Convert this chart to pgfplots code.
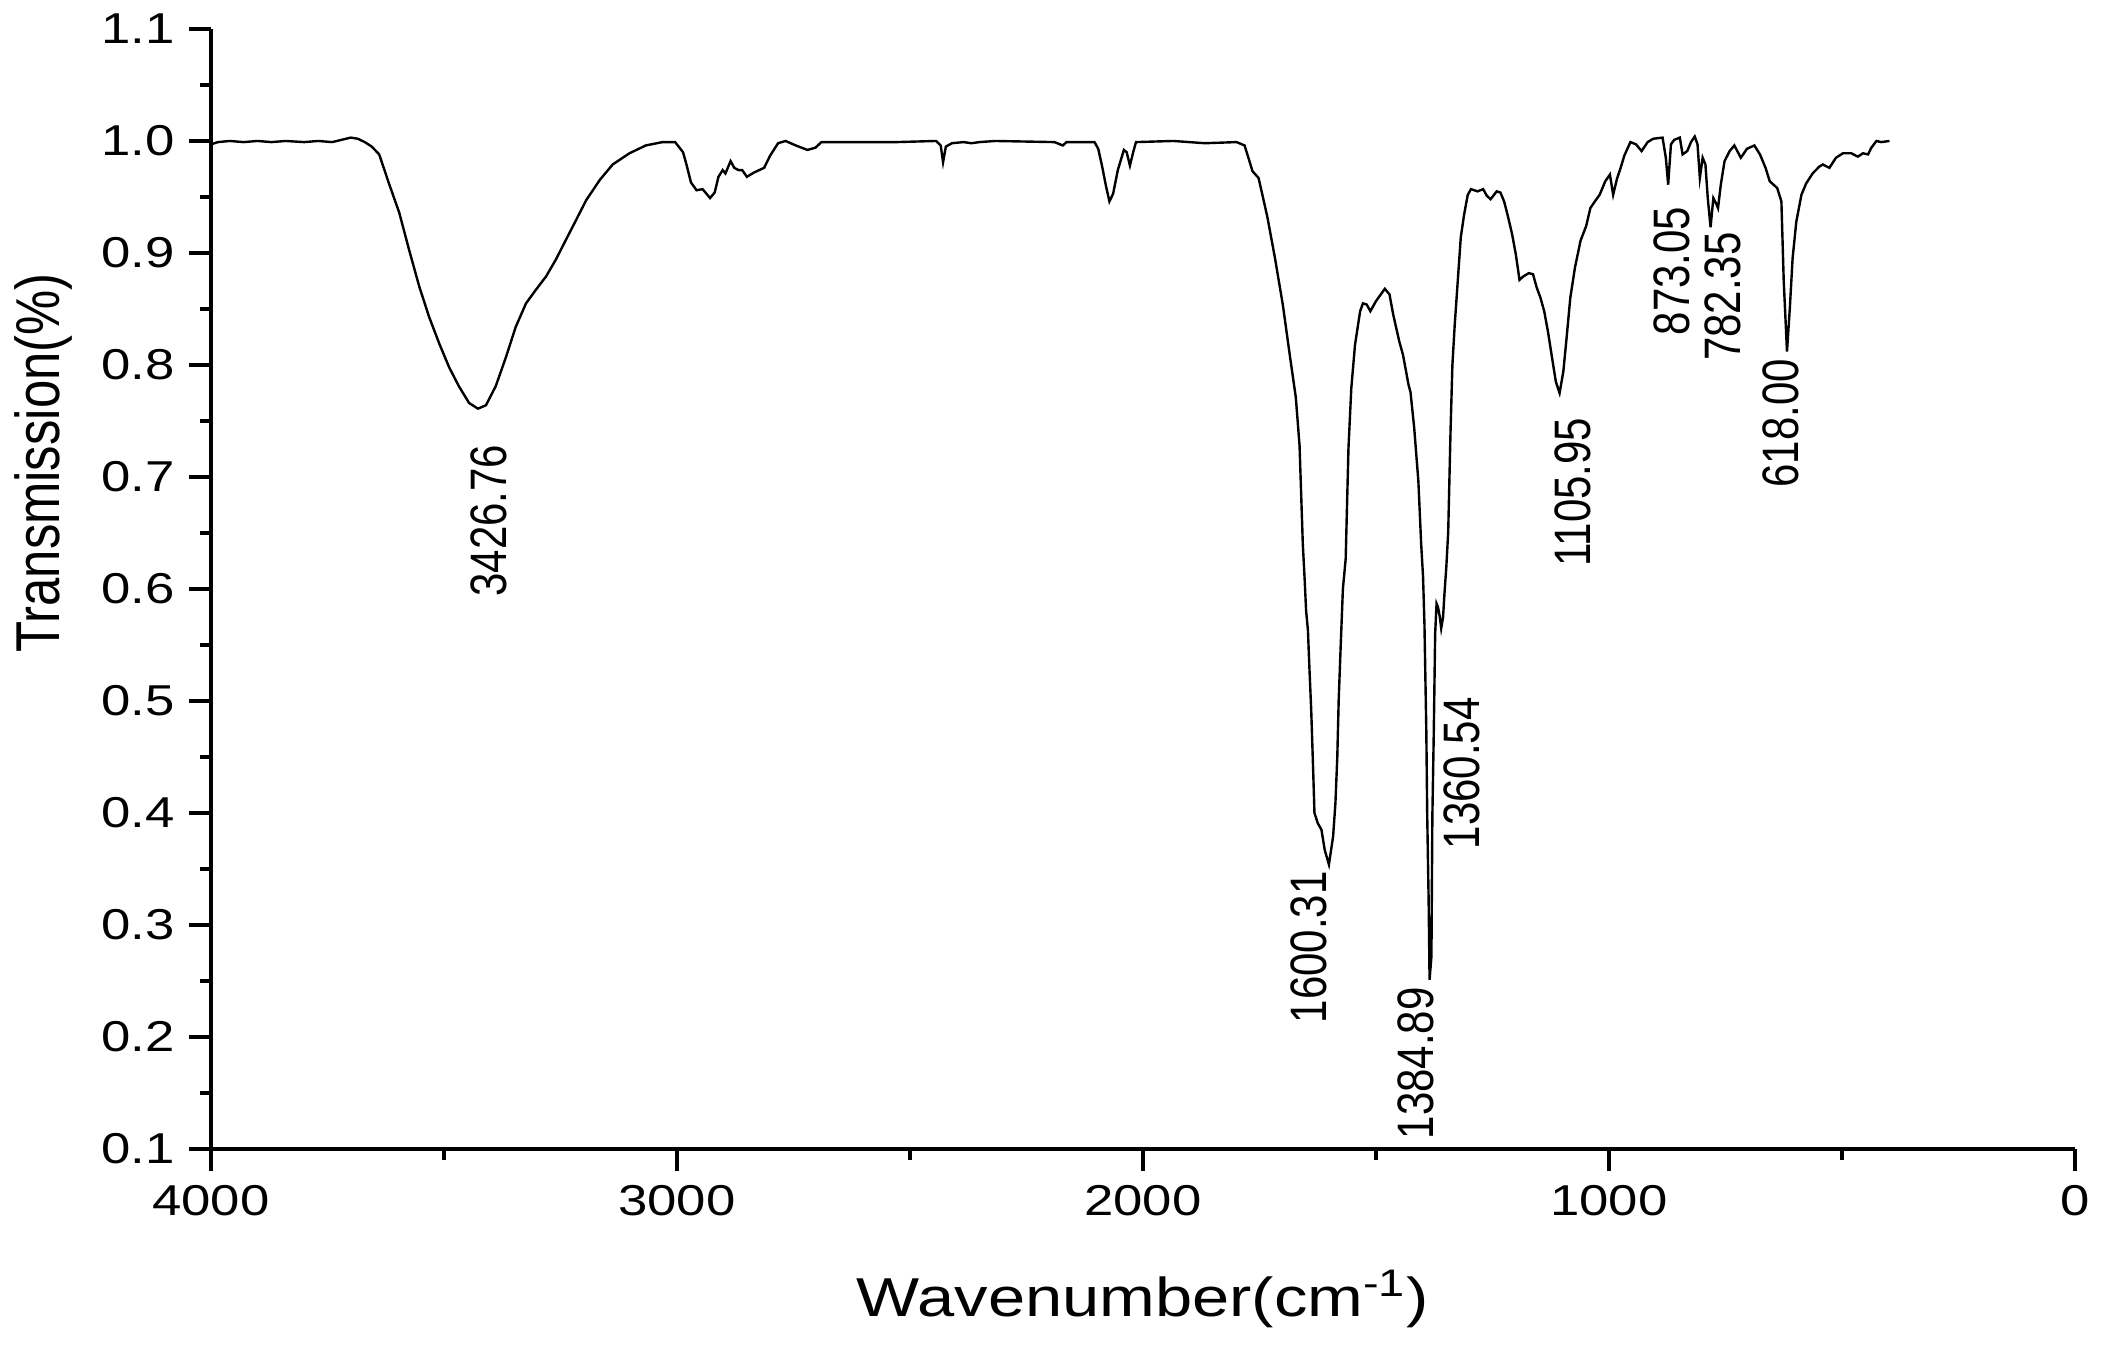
\documentclass[border=0pt]{standalone}
\usepackage{graphicx}
\usepackage{fontspec}
\setmainfont{Liberation Sans}[FakeStretch=1.22]
\newfontfamily\rotfont{Liberation Sans}
\usepackage{pgfplots}
\pgfplotsset{compat=1.18}
\usepackage{pgfplotstable}

\pgfplotstableread{
wn T
4000 0.997
3985 0.999
3960 1.000
3930 0.999
3900 1.000
3870 0.999
3840 1.000
3800 0.999
3770 1.000
3740 0.999
3720 1.001
3700 1.003
3685 1.002
3670 0.999
3655 0.995
3639 0.988
3618 0.962
3596 0.936
3575 0.903
3553 0.870
3532 0.843
3510 0.819
3489 0.798
3468 0.781
3446 0.766
3427 0.761
3410 0.764
3389 0.781
3367 0.807
3346 0.834
3324 0.855
3303 0.867
3281 0.879
3260 0.894
3238 0.912
3217 0.929
3195 0.947
3166 0.965
3138 0.979
3102 0.989
3067 0.996
3031 0.999
3004 0.999
2987 0.990
2979 0.978
2970 0.963
2958 0.956
2945 0.957
2929 0.949
2919 0.954
2911 0.968
2902 0.974
2896 0.971
2885 0.982
2877 0.976
2868 0.974
2860 0.974
2850 0.968
2834 0.972
2813 0.976
2800 0.987
2783 0.998
2767 1.000
2745 0.996
2720 0.992
2703 0.994
2690 0.999
2656 0.999
2614 0.999
2529 0.999
2444 1.000
2434 0.996
2429 0.981
2423 0.995
2410 0.998
2385 0.999
2368 0.998
2351 0.999
2317 1.000
2190 0.999
2172 0.996
2164 0.999
2104 0.999
2096 0.993
2088 0.978
2079 0.959
2072 0.946
2064 0.953
2054 0.974
2041 0.992
2035 0.990
2028 0.978
2021 0.990
2015 0.999
1935 1.000
1867 0.998
1799 0.999
1782 0.996
1773 0.984
1765 0.973
1752 0.967
1740 0.945
1733 0.932
1717 0.896
1700 0.854
1684 0.806
1672 0.771
1664 0.728
1657 0.640
1653 0.608
1650 0.581
1646 0.563
1643 0.531
1639 0.492
1635 0.441
1632 0.400
1625 0.391
1617 0.385
1610 0.367
1601 0.354
1592 0.379
1587 0.409
1583 0.450
1580 0.501
1576 0.546
1571 0.600
1565 0.627
1559 0.726
1553 0.779
1545 0.818
1534 0.848
1528 0.855
1520 0.854
1512 0.848
1500 0.857
1481 0.868
1471 0.863
1463 0.845
1450 0.821
1442 0.809
1430 0.782
1426 0.776
1418 0.744
1409 0.696
1403 0.640
1399 0.611
1396 0.569
1392 0.474
1390 0.397
1387 0.322
1385 0.251
1381 0.272
1379 0.397
1376 0.471
1373 0.560
1370 0.587
1367 0.584
1363 0.575
1360 0.565
1356 0.575
1353 0.596
1349 0.620
1345 0.651
1340 0.741
1336 0.800
1331 0.836
1323 0.884
1318 0.914
1311 0.934
1303 0.952
1296 0.957
1282 0.955
1270 0.957
1262 0.951
1254 0.948
1241 0.955
1233 0.954
1225 0.946
1217 0.933
1208 0.917
1200 0.899
1192 0.876
1184 0.879
1172 0.882
1163 0.881
1155 0.869
1147 0.860
1139 0.848
1131 0.830
1122 0.806
1114 0.785
1106 0.775
1098 0.794
1091 0.824
1083 0.860
1073 0.887
1061 0.911
1049 0.924
1040 0.940
1032 0.945
1020 0.952
1008 0.964
998 0.970
991 0.952
983 0.966
975 0.976
967 0.987
954 0.999
942 0.997
930 0.991
917 0.999
905 1.002
885 1.003
878 0.985
873 0.961
867 0.997
860 1.001
848 1.003
842 0.988
832 0.991
824 0.999
816 1.004
810 0.997
805 0.967
799 0.985
793 0.979
788 0.949
782 0.923
776 0.949
771 0.945
766 0.940
760 0.961
752 0.982
741 0.991
731 0.996
717 0.985
704 0.993
688 0.996
676 0.988
664 0.976
655 0.964
639 0.958
630 0.946
625 0.875
618 0.812
612 0.850
606 0.895
598 0.928
587 0.952
577 0.962
563 0.971
549 0.977
541 0.979
527 0.976
513 0.985
498 0.989
480 0.989
466 0.986
455 0.989
444 0.988
437 0.994
426 1.000
416 0.999
398 1.000
}\spectrum

\newcommand{\peak}[1]{\rotfont\fontsize{10.5}{12}\selectfont\scalebox{1}[1.22]{#1}}

\begin{document}
\begin{tikzpicture}
\path[use as bounding box] (-52.75pt,-49pt) rectangle (474.75pt,287.25pt);
\begin{axis}[
  at={(0pt,0pt)}, anchor=south west,
  scale only axis,
  width=466pt, height=280pt,
  x dir=reverse,
  xmin=0, xmax=4000, ymin=0.1, ymax=1.1,
  enlargelimits=false,
  axis x line*=bottom, axis y line*=left,
  axis line style={line width=1.2pt, black},
  tick align=outside,
  major tick length=5.5pt, minor tick length=2.75pt,
  every tick/.style={line width=1.2pt, black},
  xtick={0,1000,2000,3000,4000},
  minor xtick={500,1500,2500,3500},
  ytick={0.1,0.2,0.3,0.4,0.5,0.6,0.7,0.8,0.9,1.0,1.1},
  minor ytick={0.15,0.25,0.35,0.45,0.55,0.65,0.75,0.85,0.95,1.05},
  scaled ticks=false,
  /pgf/number format/assume math mode=true,
  tick label style={font=\fontsize{10.8}{12}\selectfont},
  xticklabel style={/pgf/number format/.cd, fixed, 1000 sep={}},
  yticklabel style={/pgf/number format/.cd, fixed, fixed zerofill, precision=1},
  xlabel={Wavenumber(cm\textsuperscript{-1})},
  ylabel={\scalebox{1}[1.22]{Transmission(\%)}},
  every axis x label/.style={at={(axis description cs:0.5,0)}, anchor=base, yshift=-42pt, font=\fontsize{13.7}{16}\selectfont},
  every axis y label/.style={at={(axis description cs:-0.0815,0.6125)}, rotate=90, anchor=base, font=\rotfont\fontsize{12.7}{15}\selectfont},
  clip=false,
]
\addplot[black, line width=0.6pt, mark=none] table[x=wn, y=T] {\spectrum};
\node[rotate=90] at (axis cs:3403,0.661) {\peak{3426.76}};
\node[rotate=90] at (axis cs:1644,0.280) {\peak{1600.31}};
\node[rotate=90] at (axis cs:1415,0.1765) {\peak{1384.89}};
\node[rotate=90] at (axis cs:1315,0.4355) {\peak{1360.54}};
\node[rotate=90] at (axis cs:1077,0.6865) {\peak{1105.95}};
\node[rotate=90] at (axis cs:864,0.884) {\peak{873.05}};
\node[rotate=90] at (axis cs:755,0.861) {\peak{782.35}};
\node[rotate=90] at (axis cs:632,0.748) {\peak{618.00}};
\end{axis}
\end{tikzpicture}
\end{document}
